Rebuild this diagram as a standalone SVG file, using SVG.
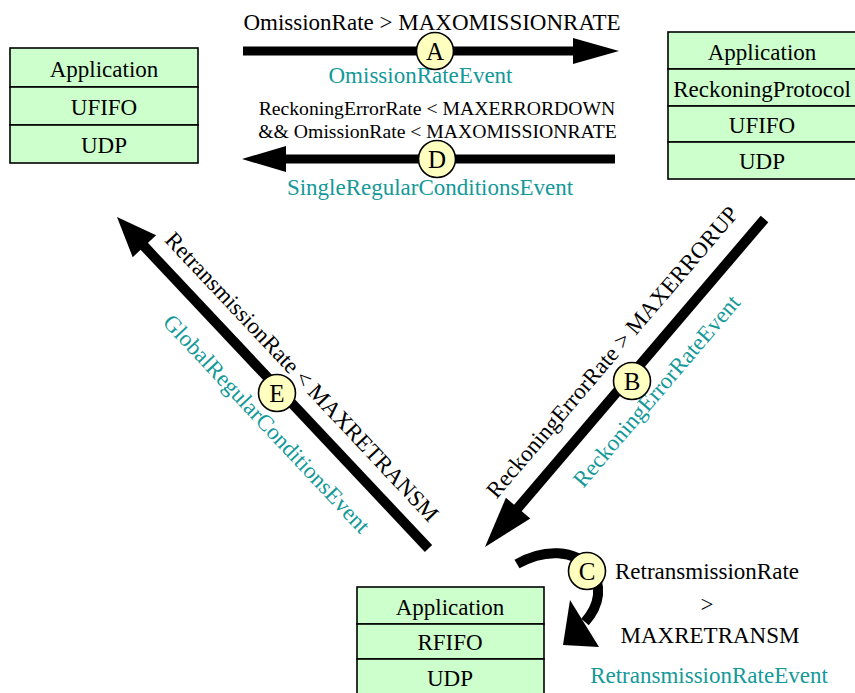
<svg xmlns="http://www.w3.org/2000/svg" width="855" height="693" viewBox="0 0 855 693">
<style>
  .box{fill:#ccffcc;stroke:#000;stroke-width:1.6}
  .t{font-family:"Liberation Serif","Times New Roman",serif;font-size:23px;fill:#000;text-anchor:middle}
  .s{font-size:19.7px}
  .teal{fill:#139999}
  .shaft{fill:none;stroke:#000;stroke-linecap:butt}
  .head{fill:#000;stroke:none}
  .badge{fill:#ffffc0;stroke:#000;stroke-width:1.6}
  .bl{font-family:"Liberation Serif","Times New Roman",serif;font-size:25px;fill:#000;text-anchor:middle}
</style>
<rect width="855" height="693" fill="#fff"/>

<g id="node-left">
  <rect class="box" x="10" y="48" width="188" height="39"/>
  <rect class="box" x="10" y="87" width="188" height="38"/>
  <rect class="box" x="10" y="125" width="188" height="38"/>
  <text class="t" x="104" y="77">Application</text>
  <text class="t" x="104" y="115">UFIFO</text>
  <text class="t" x="104" y="153">UDP</text>
</g>

<g id="node-right">
  <rect class="box" x="668" y="32" width="188" height="37"/>
  <rect class="box" x="668" y="69" width="188" height="37"/>
  <rect class="box" x="668" y="106" width="188" height="36"/>
  <rect class="box" x="668" y="142" width="188" height="37"/>
  <text class="t" x="762" y="60">Application</text>
  <text class="t" x="762" y="97">ReckoningProtocol</text>
  <text class="t" x="762" y="133">UFIFO</text>
  <text class="t" x="762" y="169">UDP</text>
</g>

<g id="node-bottom">
  <rect class="box" x="357" y="587" width="187" height="37"/>
  <rect class="box" x="357" y="624" width="187" height="35"/>
  <rect class="box" x="357" y="659" width="187" height="40"/>
  <text class="t" x="450" y="615">Application</text>
  <text class="t" x="450" y="650">RFIFO</text>
  <text class="t" x="450" y="686">UDP</text>
</g>

<g id="connectors">
  <!-- A -->
  <line class="shaft" x1="243" y1="51" x2="575" y2="51" stroke-width="9"/>
  <polygon class="head" points="573,38 619,51 573,64"/>
  <!-- D -->
  <line class="shaft" x1="615" y1="159" x2="284" y2="159" stroke-width="9"/>
  <polygon class="head" points="242,159 286,146 286,172"/>
  <!-- B -->
  <line class="shaft" x1="764.5" y1="219" x2="517" y2="509" stroke-width="10"/>
  <polygon class="head" points="485,547 505.9,497.8 530.3,518.6"/>
  <!-- E -->
  <line class="shaft" x1="428.5" y1="548.5" x2="143" y2="245" stroke-width="10"/>
  <polygon class="head" points="117,217 156.1,235.2 132.7,257.2"/>
  <!-- C -->
  <path class="shaft" d="M517,564 C545,548 575,550 590,568 C603,585 600,605 585,622" stroke-width="10"/>
  <polygon class="head" points="570,600 599,647 563,645"/>

  <!-- labels -->
  <text class="t" x="432" y="30">OmissionRate &gt; MAXOMISSIONRATE</text>
  <text class="t teal" x="420.5" y="83">OmissionRateEvent</text>
  <text class="t s" x="437" y="115">ReckoningErrorRate &lt; MAXERRORDOWN</text>
  <text class="t s" x="437.5" y="138">&amp;&amp; OmissionRate &lt; MAXOMISSIONRATE</text>
  <text class="t teal" x="430" y="195">SingleRegularConditionsEvent</text>

  <text class="t" transform="translate(618,357) rotate(-49.56)">ReckoningErrorRate &gt; MAXERRORUP</text>
  <text class="t teal" transform="translate(662.3,396) rotate(-49.56)">ReckoningErrorRateEvent</text>

  <text class="t" transform="translate(296.5,382) rotate(46.78)">RetransmissionRate &lt; MAXRETRANSM</text>
  <text class="t teal" transform="translate(261,429) rotate(46.78)">GlobalRegularConditionsEvent</text>

  <text class="t" x="707" y="579">RetransmissionRate</text>
  <text class="t" x="707" y="612">&gt;</text>
  <text class="t" x="710" y="643">MAXRETRANSM</text>
  <text class="t teal" x="709" y="683">RetransmissionRateEvent</text>

  <!-- badges -->
  <g id="badge-A"><circle class="badge" cx="435" cy="51" r="18.5"/><text class="bl" x="435" y="59.5">A</text></g>
  <g id="badge-D"><circle class="badge" cx="437" cy="159" r="18.5"/><text class="bl" x="437" y="167.5">D</text></g>
  <g id="badge-B"><circle class="badge" cx="632" cy="381" r="18.5"/><text class="bl" x="632" y="389.5">B</text></g>
  <g id="badge-E"><circle class="badge" cx="277" cy="393" r="18.5"/><text class="bl" x="277" y="401.5">E</text></g>
  <g id="badge-C"><circle class="badge" cx="587" cy="571" r="18.5"/><text class="bl" x="587" y="579.5">C</text></g>
</g>
</svg>
